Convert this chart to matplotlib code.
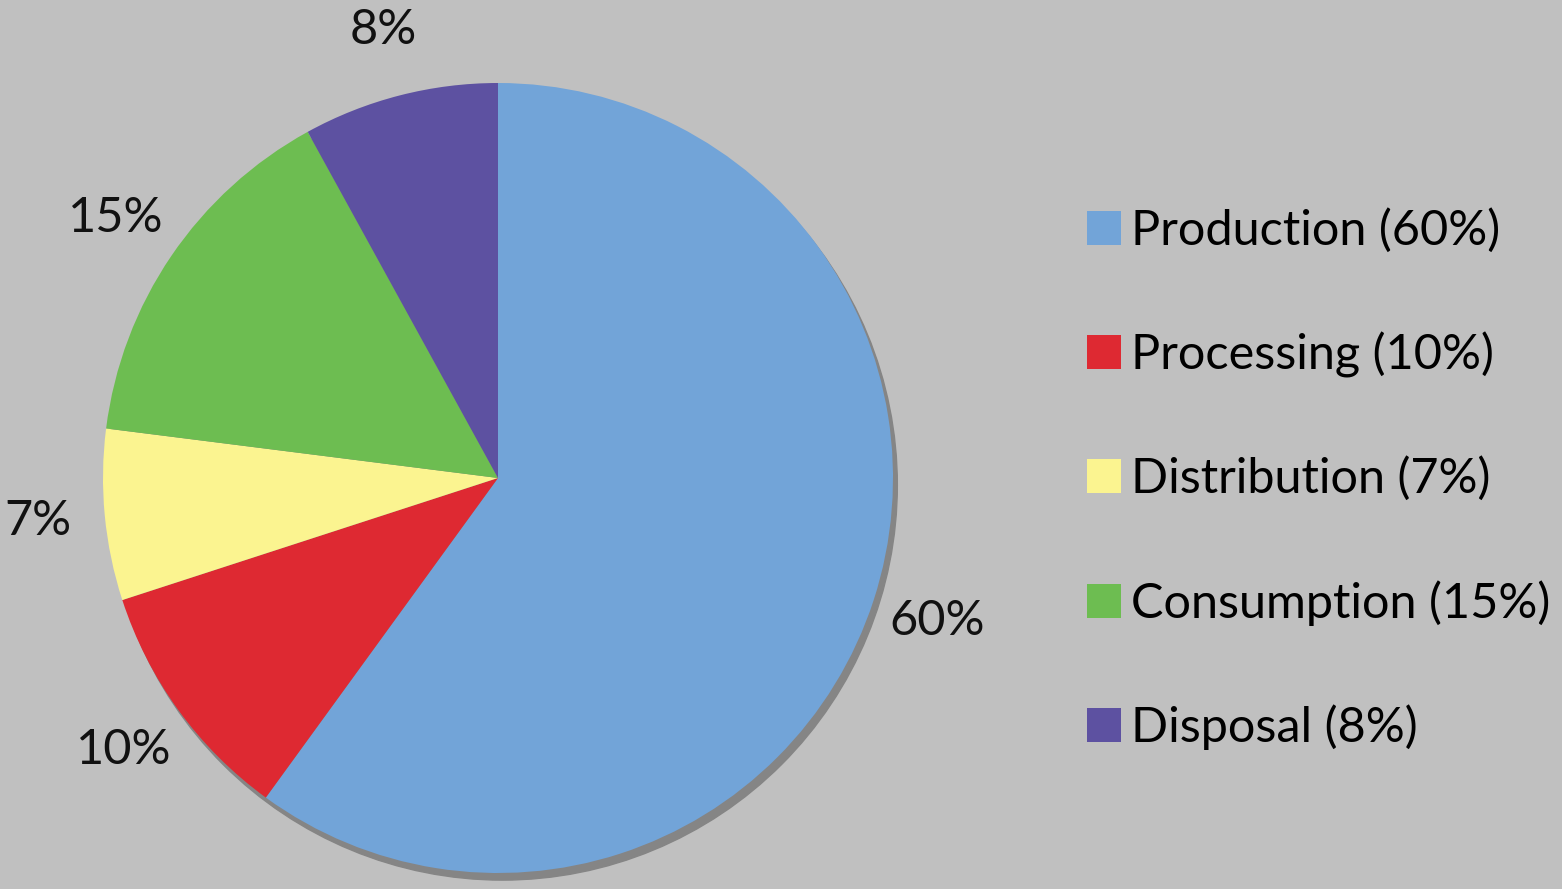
import matplotlib.pyplot as plt
from matplotlib.patches import Circle

plt.rcParams['font.family'] = ['Lato', 'DejaVu Sans']

labels = ['Production', 'Processing', 'Distribution', 'Consumption', 'Disposal']
values = [60, 10, 7, 15, 8]
colors = ['#72a4d8', '#de2932', '#fbf490', '#6dbd51', '#5d51a1']

fig = plt.figure(figsize=(15.62, 8.89), dpi=100, facecolor='#c0c0c0')
W, H = 1562, 889
cx, cy, r = 498, 478, 395
ax = fig.add_axes([(cx - r) / W, (H - cy - r) / H, 2 * r / W, 2 * r / H])
ax.set_facecolor('#c0c0c0')

# grey shadow behind the pie
ax.add_patch(Circle((0.011, -0.018), 1.0, color='#858585', zorder=0, clip_on=False))

wedges, texts, autotexts = ax.pie(
    values, colors=colors, startangle=90, counterclock=False,
    autopct='%d%%', pctdistance=1.17, radius=1.0,
    wedgeprops=dict(linewidth=0, clip_on=False))
for t in autotexts:
    t.set_fontsize(35)
    t.set_color('#111111')

ax.set_xlim(-1, 1)
ax.set_ylim(-1, 1)
ax.set_aspect('equal')
ax.axis('off')

leg_labels = ['%s (%d%%)' % (l, v) for l, v in zip(labels, values)]
fig.legend(wedges, leg_labels, loc='center left',
           bbox_to_anchor=(1087 / W, (H - 479) / H),
           frameon=False, fontsize=35, handlelength=0.7, handleheight=0.7,
           handletextpad=0.2, labelspacing=1.62, borderpad=0, borderaxespad=0)

plt.savefig('out.png', dpi=100, facecolor='#c0c0c0')
